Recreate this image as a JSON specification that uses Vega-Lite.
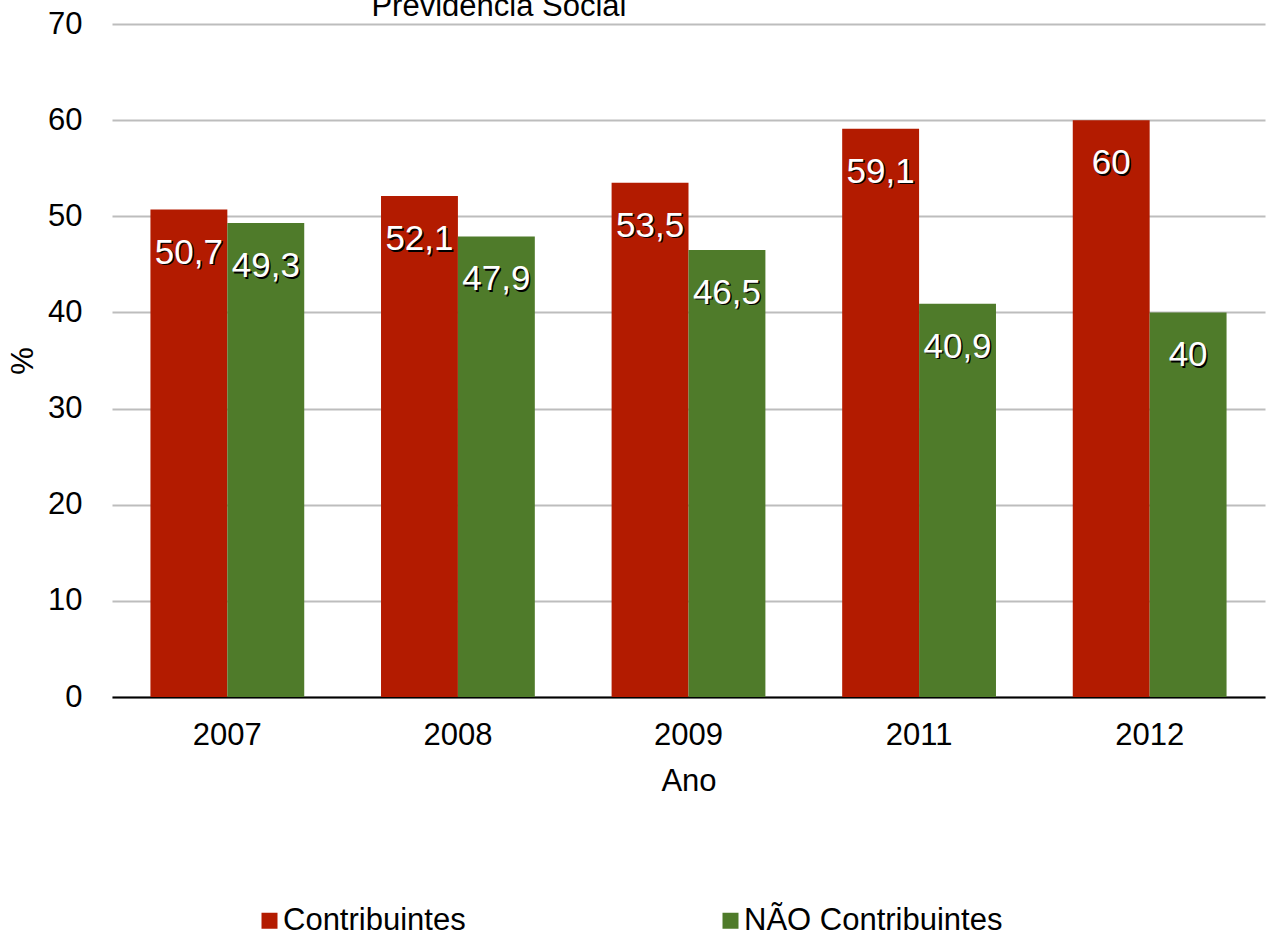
{
  "$schema": "https://vega.github.io/schema/vega-lite/v6.json",
  "autosize": "none",
  "width": 1153,
  "height": 673,
  "padding": {"left": 112, "top": 24, "right": 9, "bottom": 239},
  "background": "white",
  "config": {
    "font": "Liberation Sans",
    "view": {"stroke": null}
  },
  "datasets": {
    "valores": [
      {"ano": "2007", "serie": "Contribuintes", "valor": 50.7, "rotulo": "50,7"},
      {"ano": "2007", "serie": "NÃO Contribuintes", "valor": 49.3, "rotulo": "49,3"},
      {"ano": "2008", "serie": "Contribuintes", "valor": 52.1, "rotulo": "52,1"},
      {"ano": "2008", "serie": "NÃO Contribuintes", "valor": 47.9, "rotulo": "47,9"},
      {"ano": "2009", "serie": "Contribuintes", "valor": 53.5, "rotulo": "53,5"},
      {"ano": "2009", "serie": "NÃO Contribuintes", "valor": 46.5, "rotulo": "46,5"},
      {"ano": "2011", "serie": "Contribuintes", "valor": 59.1, "rotulo": "59,1"},
      {"ano": "2011", "serie": "NÃO Contribuintes", "valor": 40.9, "rotulo": "40,9"},
      {"ano": "2012", "serie": "Contribuintes", "valor": 60, "rotulo": "60"},
      {"ano": "2012", "serie": "NÃO Contribuintes", "valor": 40, "rotulo": "40"}
    ],
    "titulo": [
      {"titulo": "Previdência Social"}
    ]
  },
  "layer": [
    {
      "data": {"name": "valores"},
      "mark": {"type": "bar"},
      "encoding": {
        "x": {
          "field": "ano",
          "type": "nominal",
          "scale": {"paddingInner": 0.333, "paddingOuter": 0.1667},
          "axis": {
            "title": "Ano",
            "labelAngle": 0,
            "labelFontSize": 31,
            "labelColor": "black",
            "labelPadding": 23,
            "titleFontSize": 31,
            "titleFontWeight": "normal",
            "titleColor": "black",
            "titlePadding": 16,
            "ticks": false,
            "domainColor": "black",
            "domainWidth": 2,
            "grid": false
          }
        },
        "xOffset": {"field": "serie", "type": "nominal", "sort": ["Contribuintes", "NÃO Contribuintes"]},
        "y": {
          "field": "valor",
          "type": "quantitative",
          "scale": {"domain": [0, 70], "nice": false},
          "axis": {
            "title": "%",
            "values": [0, 10, 20, 30, 40, 50, 60, 70],
            "labelFontSize": 31,
            "labelColor": "black",
            "labelPadding": 30,
            "titleFontSize": 31,
            "titleFontWeight": "normal",
            "titleColor": "black",
            "titlePadding": 8,
            "ticks": false,
            "domain": false,
            "gridColor": "#bdbdbd",
            "gridWidth": 2
          }
        },
        "color": {
          "field": "serie",
          "type": "nominal",
          "sort": ["Contribuintes", "NÃO Contribuintes"],
          "scale": {"domain": ["Contribuintes", "NÃO Contribuintes"], "range": ["#B31B00", "#4F7B2A"]},
          "legend": {
            "title": null,
            "orient": "none",
            "legendX": 142,
            "legendY": 881,
            "direction": "horizontal",
            "columns": 2,
            "columnPadding": 249,
            "padding": 0,
            "symbolType": "square",
            "symbolSize": 256,
            "symbolStrokeWidth": 0,
            "symbolOpacity": 1,
            "labelFontSize": 31,
            "labelColor": "black",
            "labelOffset": -2,
            "labelLimit": 0,
            "labelFont": "Liberation Sans"
          }
        }
      }
    },
    {
      "data": {"name": "valores"},
      "mark": {"type": "text", "baseline": "alphabetic", "dy": 55.5, "dx": 1.5, "fontSize": 35, "color": "black", "align": "center"},
      "encoding": {
        "x": {"field": "ano", "type": "nominal"},
        "xOffset": {"field": "serie", "type": "nominal", "sort": ["Contribuintes", "NÃO Contribuintes"]},
        "y": {"field": "valor", "type": "quantitative"},
        "text": {"field": "rotulo"}
      }
    },
    {
      "data": {"name": "valores"},
      "mark": {"type": "text", "baseline": "alphabetic", "dy": 54, "fontSize": 35, "color": "white", "align": "center"},
      "encoding": {
        "x": {"field": "ano", "type": "nominal"},
        "xOffset": {"field": "serie", "type": "nominal", "sort": ["Contribuintes", "NÃO Contribuintes"]},
        "y": {"field": "valor", "type": "quantitative"},
        "text": {"field": "rotulo"}
      }
    },
    {
      "data": {"name": "titulo"},
      "mark": {"type": "text", "baseline": "alphabetic", "fontSize": 31, "color": "black", "align": "center", "dx": 41},
      "encoding": {
        "x": {"datum": "2008", "type": "nominal"},
        "y": {"datum": 70.8, "type": "quantitative"},
        "text": {"field": "titulo"}
      }
    }
  ]
}
